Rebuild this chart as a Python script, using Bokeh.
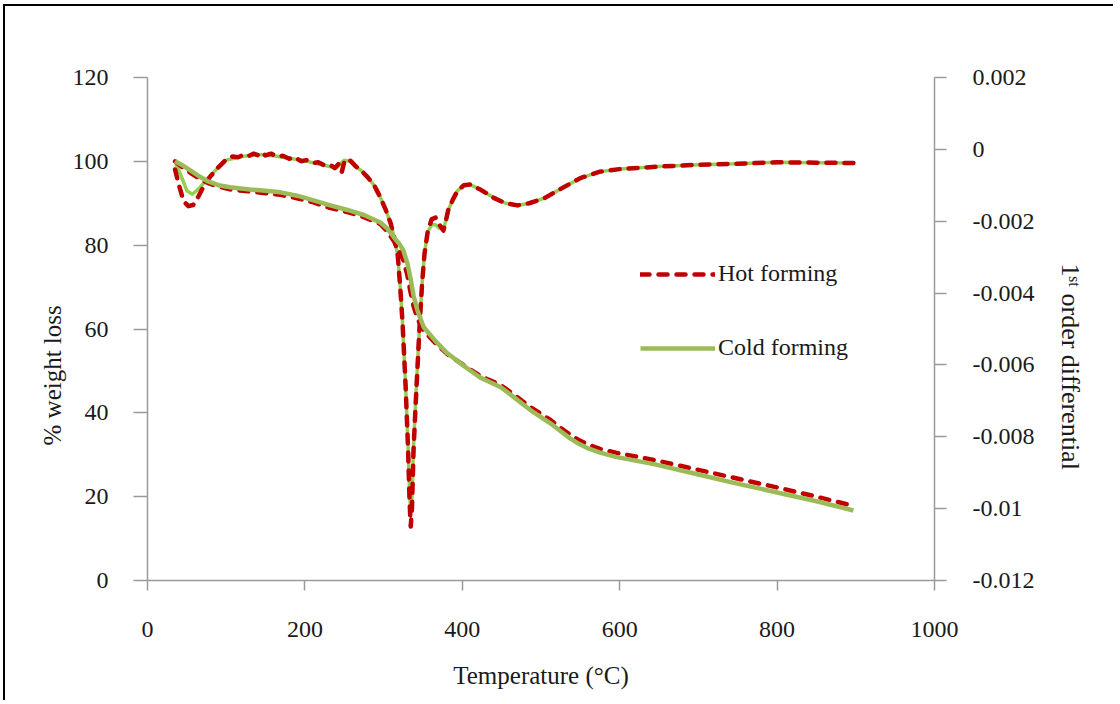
from bokeh.plotting import figure
from bokeh.models import (Range1d, LinearAxis, FixedTicker, CustomJSTickFormatter,
                          Legend, LegendItem, Title)
from bokeh.embed import file_html
from bokeh.resources import INLINE

# ---- TG (% weight loss) ----
tg_temp = [35, 45, 55, 65, 77, 90, 105, 130, 150, 169, 190, 211, 230, 254, 275, 296, 305,
           313, 320, 325, 330, 334, 338, 343, 351, 365, 381, 400, 410, 423, 449, 465, 487,
           512, 525, 537, 548, 560, 575, 595, 620, 645, 700, 745, 800, 850, 897]
tg_cold = [100, 99, 97.8, 96.5, 95.2, 94.3, 93.8, 93.3, 93.0, 92.6, 91.8, 90.7, 89.6, 88.4,
           87.2, 85.4, 83.9, 81.9, 80.3, 78.8, 75.8, 72.3, 68, 64.4, 60.4, 57.3, 54.2, 51.5,
           50.1, 48.4, 46.1, 43.8, 40.6, 37.5, 35.6, 33.9, 32.6, 31.5, 30.5, 29.5, 28.6,
           27.7, 25.3, 23.3, 21.0, 18.9, 16.7]
tg_hot = [100, 98.5, 97.2, 96.0, 94.8, 94.0, 93.3, 92.8, 92.4, 92.0, 91.2, 90.2, 89.0, 87.9,
          86.7, 85.0, 83.2, 81.0, 78.5, 76.5, 73.0, 69.0, 65.5, 62.5, 59.6, 56.8, 54.0, 51.6,
          50.3, 48.8, 46.6, 44.4, 41.3, 38.3, 36.4, 34.8, 33.5, 32.4, 31.4, 30.5, 29.6,
          28.7, 26.4, 24.5, 22.2, 20.0, 17.8]

# ---- DTG (1st order differential) ----
dtg_hot_temp = [35, 40, 46, 52, 58, 65, 72, 80, 90, 100, 108, 115, 122, 128, 135, 140, 145,
                150, 157, 165, 172, 180, 187, 195, 202, 210, 217, 225, 232, 238, 243, 247,
                250, 253, 258, 265, 272, 280, 288, 296, 303, 309, 314, 318, 321, 324, 328,
                331, 333, 334.5, 336, 338, 340.5, 343, 346, 349, 352, 356, 361, 366, 371,
                376, 379, 382, 388, 394, 402, 410, 423, 440, 455, 470, 485, 505, 525, 550,
                575, 600, 650, 700, 750, 800, 850, 898]
dtg_hot = [-0.00056, -0.0010, -0.00145, -0.00158, -0.00155, -0.0013, -0.0010, -0.00075,
           -0.0005, -0.00028, -0.00020, -0.00022, -0.00015, -0.00019, -0.00012, -0.00016,
           -0.00008, -0.00017, -0.00012, -0.00020, -0.00018, -0.00026, -0.00022, -0.00033,
           -0.00030, -0.00038, -0.00036, -0.00045, -0.00043, -0.00052, -0.00040, -0.00062,
           -0.00035, -0.00027, -0.00032, -0.00048, -0.00060, -0.00078, -0.0010, -0.00134,
           -0.0017, -0.00206, -0.0025, -0.00295, -0.0038, -0.0048, -0.0066, -0.0083,
           -0.0098, -0.0105, -0.0100, -0.0084, -0.0072, -0.0061, -0.0048, -0.0037, -0.0029,
           -0.0023, -0.00195, -0.0019, -0.0021, -0.00226, -0.0020, -0.0017, -0.0014,
           -0.00115, -0.00100, -0.00098, -0.00112, -0.00135, -0.00150, -0.00156, -0.00150,
           -0.00135, -0.00110, -0.00080, -0.00062, -0.00055, -0.00048, -0.00043, -0.00040,
           -0.00036, -0.00037, -0.00038]

dtg_cold_temp = [35, 42, 50, 57, 65, 77, 90, 100, 120, 140, 160, 180, 200, 220, 240, 250,
                 258, 265, 272, 280, 288, 296, 303, 309, 314, 318, 321, 324, 328, 331, 333,
                 334.5, 336, 338, 340.5, 343, 346, 349, 352, 356, 361, 366, 371, 376, 379,
                 382, 388, 394, 402, 410, 423, 440, 455, 470, 485, 505, 525, 550, 575, 600,
                 650, 700, 750, 800, 850, 898]
dtg_cold = [-0.00034, -0.0007, -0.00115, -0.00125, -0.0011, -0.0008, -0.0005, -0.0003,
            -0.0002, -0.00014, -0.00018, -0.00025, -0.00032, -0.00042, -0.00052, -0.00030,
            -0.00034, -0.00048, -0.00060, -0.00078, -0.0010, -0.00134, -0.0017, -0.00206,
            -0.0025, -0.00295, -0.0038, -0.0048, -0.0066, -0.0082, -0.0095, -0.0101,
            -0.0097, -0.0083, -0.0071, -0.0060, -0.0048, -0.0037, -0.0029, -0.0023, -0.0021,
            -0.0021, -0.0022, -0.0022, -0.0020, -0.0017, -0.0014, -0.00115, -0.00100,
            -0.00098, -0.00112, -0.00135, -0.00150, -0.00156, -0.00150, -0.00135, -0.00110,
            -0.00080, -0.00062, -0.00055, -0.00048, -0.00043, -0.00040, -0.00036, -0.00037,
            -0.00038]

x_ticks = [0, 200, 400, 600, 800, 1000]
y_ticks = [0, 20, 40, 60, 80, 100, 120]
y2_ticks = [-0.012, -0.01, -0.008, -0.006, -0.004, -0.002, 0, 0.002]

x_title = "Temperature (°C)"
y_title = "% weight loss"
y2_title = "1ˢᵗ order differential"
series_names = ["Hot forming", "Cold forming"]

FONT = "Liberation Serif"
AXIS_GREY = "#9a9a9a"
RED = "#C00000"
GREEN = "#9BBB59"
GREEN2 = "#92D050"
TXT = "#1a1a1a"

p = figure(width=1110, height=696, output_backend="svg", toolbar_location=None,
           x_range=Range1d(0, 1000), y_range=Range1d(0, 120),
           min_border_left=142, min_border_right=181, min_border_top=71,
           min_border_bottom=122,
           styles={"margin-left": "3px", "margin-top": "4px",
                   "border-top": "2px solid black", "border-left": "2px solid black"})
p.outline_line_color = None
p.xgrid.grid_line_color = None
p.ygrid.grid_line_color = None
p.extra_y_ranges = {"dtg": Range1d(-0.012, 0.002)}


def style_axis(ax, tick_out, standoff):
    ax.axis_line_color = AXIS_GREY
    ax.axis_line_width = 1.5
    ax.major_tick_line_color = AXIS_GREY
    ax.major_tick_line_width = 1.5
    ax.major_tick_in = 0
    ax.major_tick_out = tick_out
    ax.minor_tick_line_color = None
    ax.major_label_text_font = FONT
    ax.major_label_text_font_size = "24px"
    ax.major_label_text_color = TXT
    ax.major_label_standoff = standoff


style_axis(p.xaxis[0], 10, 31)
style_axis(p.yaxis[0], 14, 25)
p.xaxis[0].ticker = FixedTicker(ticks=x_ticks)
p.yaxis[0].ticker = FixedTicker(ticks=y_ticks)
p.xaxis[0].axis_label = x_title
p.xaxis[0].axis_label_text_font = FONT
p.xaxis[0].axis_label_text_font_size = "25px"
p.xaxis[0].axis_label_text_font_style = "normal"
p.xaxis[0].axis_label_text_color = TXT
p.xaxis[0].axis_label_standoff = 22

y2 = LinearAxis(y_range_name="dtg", ticker=FixedTicker(ticks=y2_ticks),
                formatter=CustomJSTickFormatter(code="""
                    let s = (Math.round(tick * 1000) / 1000).toFixed(3);
                    if (s.indexOf('.') >= 0) { s = s.replace(/0+$/, '').replace(/\\.$/, ''); }
                    if (s === '-0') { s = '0'; }
                    return s;"""))
style_axis(y2, 12, 26)
p.add_layout(y2, "right")

# axis titles on the sides
t_left = Title(text=y_title, align="left", offset=135, standoff=8,
               text_font=FONT, text_font_size="25px", text_font_style="normal",
               text_color=TXT)
p.add_layout(t_left, "left")
t_right = Title(text=y2_title, align="left", offset=186, standoff=37,
                text_font=FONT, text_font_size="26px", text_font_style="normal",
                text_color=TXT)
p.add_layout(t_right, "right")

# data lines
r_dtg_cold = p.line(dtg_cold_temp, dtg_cold, y_range_name="dtg", line_color=GREEN2,
                    line_width=3.5, line_join="round")
r_dtg_hot = p.line(dtg_hot_temp, dtg_hot, y_range_name="dtg", line_color=RED,
                   line_width=4.5, line_dash="9 9", line_cap="round", line_join="round")
r_tg_hot = p.line(tg_temp, tg_hot, line_color=RED, line_width=4.5, line_dash="9 9",
                  line_cap="round", line_join="round")
r_tg_cold = p.line(tg_temp, tg_cold, line_color=GREEN, line_width=4.5, line_join="round")

legend = Legend(items=[LegendItem(label=series_names[0], renderers=[r_dtg_hot]),
                       LegendItem(label=series_names[1], renderers=[r_tg_cold])],
                location=(493, 219), orientation="vertical",
                glyph_width=75, glyph_height=20, label_height=20, label_standoff=3,
                spacing=47, padding=0, margin=0,
                label_text_font=FONT, label_text_font_size="24px",
                label_text_color=TXT,
                border_line_color=None, background_fill_alpha=0)
p.add_layout(legend, "center")

open("out.html", "w").write(file_html(p, INLINE))
